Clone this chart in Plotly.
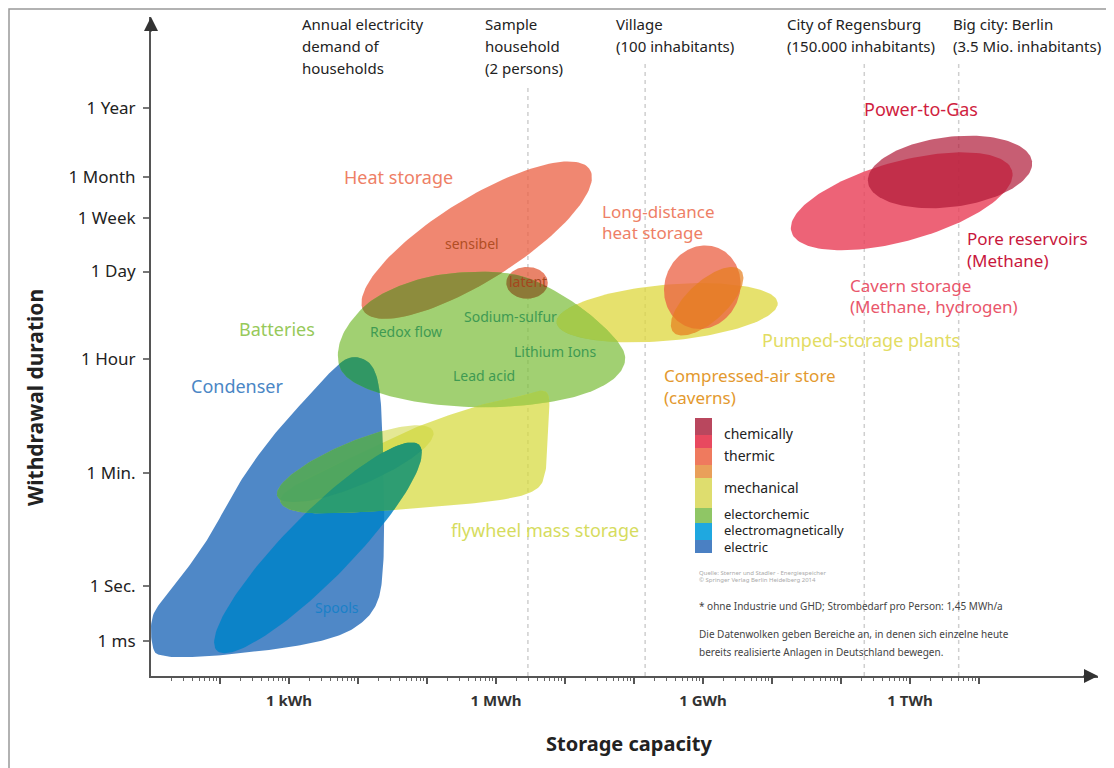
import numpy as np
import plotly.graph_objects as go

FONT = "Noto Sans"

# ---------------- data ----------------
# x = log10(storage capacity in kWh); y = log10(withdrawal duration in s)
X_TICK_LOG = [0, 3, 6, 9]
X_TICK_LABELS = ["1 kWh", "1 MWh", "1 GWh", "1 TWh"]
Y_TICK_SECONDS = [0.001, 1, 60, 3600, 86400, 604800, 2629800, 31557600]
Y_TICK_LABELS = ["1 ms", "1 Sec.", "1 Min.", "1 Hour", "1 Day", "1 Week", "1 Month", "1 Year"]
MS_COMPRESSION = 0.288  # axis is compressed below 1 second

# reference consumers (annual demand = persons * 1.45 MWh)
KWH_PER_PERSON = 1450
REF_PERSONS = [2, 100, 150000, 3500000]
REF_LINE_TOP = [7.82, 8.23, 8.23, 8.23]
REF_TEXT = [
    ["Annual electricity", "demand of", "households"],
    ["Sample", "household", "(2 persons)"],
    ["Village", "(100 inhabitants)"],
    ["City of Regensburg", "(150.000 inhabitants)"],
    ["Big city: Berlin", "(3.5 Mio. inhabitants)"],
]

# ellipses: (centre log kWh, centre log s, semi-axis a, semi-axis b, angle deg)
SPOOLS = (0.42, 0.60, 2.18, 0.50, 48)
HEAT_SENSIBLE = (2.72, 5.43, 1.98, 0.63, 34.5)
HEAT_LATENT = (3.45, 4.76, 0.30, 0.25, 0)
FLYWHEEL_CORE = (0.96, 1.92, 1.24, 0.34, 24.7)
PUMPED_HYDRO = (5.48, 4.29, 1.61, 0.44, 5.6)
LONG_DIST_HEAT = (5.99, 4.69, 0.66, 0.55, 78)
COMPRESSED_AIR = (6.06, 4.47, 0.69, 0.30, 46)
CAVERN = (8.88, 6.04, 1.67, 0.62, 17)
PORE = (9.58, 6.50, 1.20, 0.55, 8)

# free-form clouds (outline control points)
CONDENSER_X = [-1.97, -1.97, -1.65, -1.19, -0.71, -0.28, 0.16, 0.52, 0.81, 1.03, 1.22, 1.32,
               1.36, 1.38, 1.36, 1.29, 1.10, 0.74, 0.16, -0.57, -1.29, -1.80]
CONDENSER_Y = [-0.97, -0.46, 0.02, 0.72, 1.63, 2.29, 2.84, 3.27, 3.55, 3.58, 3.42, 3.00,
               2.14, 1.04, 0.25, -0.22, -0.53, -0.77, -0.93, -1.04, -1.11, -1.10]
BATTERY_X = [0.71, 0.86, 1.25, 1.90, 2.62, 3.35, 4.00, 4.58, 4.87, 4.68, 4.07, 3.06, 2.04, 1.25, 0.81]
BATTERY_Y = [3.67, 4.10, 4.52, 4.82, 4.93, 4.87, 4.54, 4.05, 3.61, 3.23, 2.95, 2.81, 2.86, 3.05, 3.31]
FLYWHEEL_X = [0.16, -0.13, 0.16, 0.88, 1.75, 2.62, 3.35, 3.74, 3.75, 3.72, 3.57, 3.06, 2.04, 1.03]
FLYWHEEL_Y = [1.16, 1.35, 1.63, 2.01, 2.45, 2.79, 2.98, 3.03, 2.45, 1.82, 1.51, 1.35, 1.24, 1.16]

LEGEND_NAMES = ["chemically", "thermic", "mechanical", "electorchemic", "electromagnetically", "electric"]
LEGEND_COLORS = ["#b9475e", "#e8495f", "#ef7a5e", "#e9a05a", "#dedd6e", "#8fc665", "#1fa8e0", "#4a80c3"]

# ---------------- helpers ----------------
OFF = 8  # page body margin of the exported html
PL, PR, PT, PB = 151, 1098, 17, 676  # plot area in page pixels
W, H = 1114 - OFF, 768 - OFF
X_RANGE = [(PL - 289) / 69.0, (PR - 289) / 69.0]
Y_RANGE = [(586 - PB) / 63.7, (586 - PT) / 63.7]


def P(px, py):
    return (px - PL) / (PR - PL), (PB - py) / (PB - PT)


def ypos(sec):
    v = np.log10(sec)
    return v if v >= 0 else v * MS_COMPRESSION


def ellipse(p, n=140):
    cx, cy, a, b, ang = p
    t = np.linspace(0, 2 * np.pi, n)
    th = np.radians(ang)
    x = cx + a * np.cos(t) * np.cos(th) - b * np.sin(t) * np.sin(th)
    y = cy + a * np.cos(t) * np.sin(th) + b * np.sin(t) * np.cos(th)
    return x, y


def smooth_closed(xs, ys, n=16):
    pts = np.column_stack([xs, ys])
    m = len(pts)
    out = []
    for i in range(m):
        p0, p1, p2, p3 = pts[i - 1], pts[i], pts[(i + 1) % m], pts[(i + 2) % m]
        for t in np.linspace(0, 1, n, endpoint=False):
            t2, t3 = t * t, t * t * t
            out.append(0.5 * (2 * p1 + (-p0 + p2) * t + (2 * p0 - 5 * p1 + 4 * p2 - p3) * t2
                              + (-p0 + 3 * p1 - 3 * p2 + p3) * t3))
    out.append(out[0])
    arr = np.array(out)
    return arr[:, 0], arr[:, 1]


def as_ccw(xy):
    x, y = xy
    pts = np.column_stack([x, y])[:-1]
    area = 0.5 * np.sum(pts[:, 0] * np.roll(pts[:, 1], -1) - np.roll(pts[:, 0], -1) * pts[:, 1])
    return pts if area > 0 else pts[::-1]


def clip(subject_xy, clipper_xy):
    """Sutherland-Hodgman: intersection of a polygon with a (near) convex polygon."""
    subj = list(as_ccw(subject_xy))
    clp = as_ccw(clipper_xy)
    out = subj
    for i in range(len(clp)):
        a, b = clp[i], clp[(i + 1) % len(clp)]
        d = b - a

        def inside(p):
            return d[0] * (p[1] - a[1]) - d[1] * (p[0] - a[0]) >= 0

        def inter(s, e):
            r = e - s
            den = d[0] * r[1] - d[1] * r[0]
            if abs(den) < 1e-12:
                return e
            t = (d[0] * (a[1] - s[1]) - d[1] * (a[0] - s[0])) / den
            return s + t * r

        inp, out = out, []
        if not inp:
            break
        s = inp[-1]
        for e in inp:
            if inside(e):
                if not inside(s):
                    out.append(inter(s, e))
                out.append(e)
            elif inside(s):
                out.append(inter(s, e))
            s = e
    if not out:
        return np.array([]), np.array([])
    arr = np.array(out + [out[0]])
    return arr[:, 0], arr[:, 1]


fig = go.Figure()

# dashed reference lines
for persons, top in zip(REF_PERSONS, REF_LINE_TOP):
    xv = np.log10(persons * KWH_PER_PERSON)
    fig.add_trace(go.Scatter(x=[xv, xv], y=[Y_RANGE[0], top], mode="lines",
                             line=dict(color="#cfcfcf", width=1.5, dash="4px,4px"),
                             hoverinfo="skip", showlegend=False))


def cloud(xy, color):
    x, y = xy
    if len(x) == 0:
        return
    fig.add_trace(go.Scatter(x=x, y=y, mode="lines", fill="toself", fillcolor=color,
                             line=dict(width=0, color="rgba(0,0,0,0)"),
                             hoverinfo="skip", showlegend=False))


condenser = smooth_closed(CONDENSER_X, CONDENSER_Y)
spools = ellipse(SPOOLS)
heat = ellipse(HEAT_SENSIBLE)
latent = ellipse(HEAT_LATENT)
pumped = ellipse(PUMPED_HYDRO)
battery = smooth_closed(BATTERY_X, BATTERY_Y)
flywheel = smooth_closed(FLYWHEEL_X, FLYWHEEL_Y)
fly_core = ellipse(FLYWHEEL_CORE)

cloud(condenser, "rgba(70,130,196,0.95)")
cloud(spools, "rgba(0,130,200,0.85)")
cloud(heat, "rgba(235,95,65,0.75)")
cloud(latent, "rgba(225,90,55,0.75)")
cloud(pumped, "rgba(222,215,60,0.75)")
cloud(battery, "rgba(125,190,60,0.72)")
cloud(flywheel, "rgba(213,218,60,0.72)")
cloud(fly_core, "rgba(205,214,60,0.55)")

# overlaps look like multiplied colours in the reference
cloud(clip(heat, battery), "rgba(140,138,60,0.95)")
cloud(clip(latent, battery), "rgba(140,118,55,0.95)")
cloud(clip(pumped, battery), "rgba(165,202,75,0.9)")
cloud(clip(flywheel, battery), "rgba(165,205,80,0.9)")
cloud(clip(condenser, battery), "rgba(45,150,100,0.95)")
cloud(clip(condenser, flywheel), "rgba(85,168,95,0.95)")
cloud(clip(condenser, fly_core), "rgba(80,165,95,0.95)")
cloud(clip(spools, flywheel), "rgba(40,155,115,0.95)")
cloud(clip(spools, fly_core), "rgba(35,150,115,0.95)")

cloud(ellipse(LONG_DIST_HEAT), "rgba(235,95,65,0.75)")
cloud(ellipse(COMPRESSED_AIR), "rgba(230,125,30,0.7)")
cloud(ellipse(CAVERN), "rgba(232,60,85,0.8)")
cloud(ellipse(PORE), "rgba(175,25,55,0.7)")

ann = []


def text(px, py, s, size, color, xanchor="center", bold=False, angle=0):
    x, y = P(px, py)
    ann.append(dict(x=x, y=y, xref="paper", yref="paper", text=s, showarrow=False,
                    xanchor=xanchor, yanchor="middle", textangle=angle,
                    font=dict(family=FONT, size=size, color=color,
                              weight="bold" if bold else "normal")))


# top reference texts
for left, lines in zip([300, 483, 614, 785, 951], REF_TEXT):
    for i, ln in enumerate(lines):
        text(left, 24 + 22 * i, ln, 15, "#222", "left")

# cloud labels
text(398, 177, "Heat storage", 18, "#ee7f66")
text(277, 329, "Batteries", 18, "#97c95a")
text(237, 386, "Condenser", 18, "#4a86c5")
text(600, 211, "Long-distance", 17, "#ee7f66", "left")
text(600, 233, "heat storage", 17, "#ee7f66", "left")
text(921, 109, "Power-to-Gas", 18, "#d01e40")
text(965, 239, "Pore reservoirs", 17, "#c8173c", "left")
text(965, 260, "(Methane)", 17, "#c8173c", "left")
text(848, 285, "Cavern storage", 17, "#e9566b", "left")
text(848, 306, "(Methane, hydrogen)", 17, "#e9566b", "left")
text(760, 340, "Pumped-storage plants", 18, "#e2dc62", "left")
text(662, 375, "Compressed-air store", 17, "#e3992e", "left")
text(662, 397, "(caverns)", 17, "#e3992e", "left")
text(449, 530, "flywheel mass storage", 18, "#d6dc5e", "left")
text(337, 607, "Spools", 14, "#1a80c8")
text(472, 244, "sensibel", 14, "#b14e24")
text(528, 281, "latent", 14, "#a5461e")
text(406, 331, "Redox flow", 14, "#3f9a52")
text(510, 316, "Sodium-sulfur", 14, "#3f9a52")
text(555, 351, "Lithium Ions", 14, "#3f9a52")
text(484, 375, "Lead acid", 14, "#3f9a52")

# legend
for name, py, sz in zip(LEGEND_NAMES, [433, 456, 487, 514, 530, 547], [14, 14, 14, 13, 13, 13]):
    text(722, py, name, sz, "#222", "left")

# footnotes
text(697, 573, "Quelle: Sterner und Stadler - Energiespeicher", 6, "#aaa", "left")
text(697, 580, "© Springer Verlag Berlin Heidelberg 2014", 6, "#aaa", "left")
text(697, 606, "* ohne Industrie und GHD; Strombedarf pro Person: 1,45 MWh/a", 10, "#444", "left")
text(697, 634, "Die Datenwolken geben Bereiche an, in denen sich einzelne heute", 10, "#444", "left")
text(697, 652, "bereits realisierte Anlagen in Deutschland bewegen.", 10, "#444", "left")

# axis titles
text(629, 743, "Storage capacity", 20, "#222", bold=True)
text(35, 398, "Withdrawal duration", 21, "#222", bold=True, angle=-90)

# axis arrows
ann.append(dict(x=0, y=1, xref="paper", yref="paper", ax=0, ay=16, axref="pixel", ayref="pixel",
                text="", showarrow=True, arrowhead=2, arrowsize=1.4, arrowwidth=2, arrowcolor="#333"))
ann.append(dict(x=1, y=0, xref="paper", yref="paper", ax=-16, ay=0, axref="pixel", ayref="pixel",
                text="", showarrow=True, arrowhead=2, arrowsize=1.4, arrowwidth=2, arrowcolor="#333"))

shapes = []
bounds = [418, 435, 448, 465, 478, 508, 523, 540, 553]
for i, col in enumerate(LEGEND_COLORS):
    x0, y0 = P(695, bounds[i + 1])
    x1, y1 = P(712, bounds[i])
    shapes.append(dict(type="rect", xref="paper", yref="paper", x0=x0, x1=x1, y0=y0, y1=y1,
                       fillcolor=col, line=dict(width=0), layer="above"))
fx0, fy0 = P(OFF + 1, 772)
fx1, fy1 = P(1107, OFF + 1)
shapes.append(dict(type="rect", xref="paper", yref="paper", x0=fx0, x1=fx1, y0=fy0, y1=fy1,
                   line=dict(color="#999", width=1.5), fillcolor="rgba(0,0,0,0)", layer="above"))

major = list(range(-1, 11))
major_text = [X_TICK_LABELS[X_TICK_LOG.index(v)] if v in X_TICK_LOG else "" for v in major]
minor = [n + np.log10(k) for n in range(-2, 10) for k in range(2, 10)]

fig.update_layout(
    width=W, height=H,
    margin=dict(l=PL - OFF, r=W - (PR - OFF), t=PT - OFF, b=H - (PB - OFF)),
    paper_bgcolor="white", plot_bgcolor="white",
    font=dict(family=FONT),
    xaxis=dict(range=X_RANGE, showgrid=False, zeroline=False, showline=True,
               linecolor="#555", linewidth=2, ticks="outside", tickvals=major,
               ticktext=major_text, ticklen=6, tickwidth=1.5, tickcolor="#555",
               tickfont=dict(family=FONT, size=15, color="#333", weight="bold"),
               ticklabelstandoff=4,
               minor=dict(tickvals=minor, ticks="outside", ticklen=3, tickwidth=1,
                          tickcolor="#666", showgrid=False)),
    yaxis=dict(range=Y_RANGE, showgrid=False, zeroline=False, showline=True,
               linecolor="#555", linewidth=2, ticks="outside",
               tickvals=[ypos(s) for s in Y_TICK_SECONDS], ticktext=Y_TICK_LABELS,
               ticklen=6, tickwidth=2, tickcolor="#777",
               tickfont=dict(family=FONT, size=17, color="#222"), ticklabelstandoff=4),
    annotations=ann, shapes=shapes,
)

fig.write_html("out.html")
